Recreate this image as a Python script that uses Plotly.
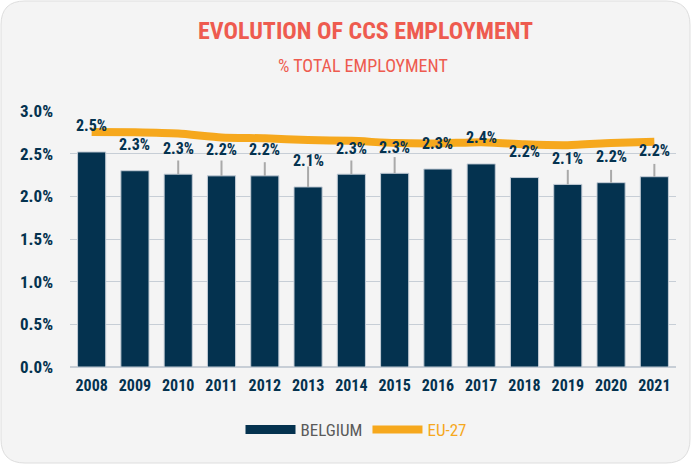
import plotly.graph_objects as go

years = ['2008', '2009', '2010', '2011', '2012', '2013', '2014',
         '2015', '2016', '2017', '2018', '2019', '2020', '2021']
belgium = [2.52, 2.30, 2.26, 2.24, 2.24, 2.11, 2.26,
           2.27, 2.32, 2.38, 2.22, 2.14, 2.16, 2.23]
belgium_upper = [None, None, 2.42, 2.42, 2.40, 2.35, 2.42,
                 2.46, None, None, None, 2.31, 2.31, 2.38]
eu27 = [2.755, 2.75, 2.735, 2.69, 2.68, 2.66, 2.65,
        2.625, 2.62, 2.635, 2.61, 2.60, 2.625, 2.64]
y_ticks = [0, 0.5, 1.0, 1.5, 2.0, 2.5, 3.0]

NAVY = '#04324f'
ORANGE = '#f6a81d'
CORAL = '#ee5b4f'
FONT = 'Roboto Condensed, Open Sans Condensed, Roboto'

W, H = 691, 464
ML, MR, MT, MB = 70, 15, 111, 97
PW, PH = W - ML - MR, H - MT - MB

# error bars only go up
err_plus = [(u - v) / 100 if u is not None else 0 for u, v in zip(belgium_upper, belgium)]

fig = go.Figure()
fig.add_trace(go.Bar(
    x=years, y=[v / 100 for v in belgium], name='BELGIUM',
    marker=dict(color=NAVY, line=dict(color='#c3ccd6', width=1)),
    error_y=dict(type='data', symmetric=False, array=err_plus,
                 arrayminus=[0] * len(years), color='#a9a9a9', thickness=2, width=0),
    showlegend=False,
))
# legend proxy for the bars (wide swatch like the original)
fig.add_trace(go.Scatter(
    x=[years[0]], y=[None], mode='lines', name='BELGIUM',
    line=dict(color=NAVY, width=9),
))
fig.add_trace(go.Scatter(
    x=years, y=[v / 100 for v in eu27], mode='lines',
    name='<span style="color:%s">EU-27</span>' % ORANGE,
    line=dict(color=ORANGE, width=8, shape='spline', smoothing=0.6),
))

# value labels above the bars (x by category index)
for i, v in enumerate(belgium):
    fig.add_annotation(x=i, y=v / 100, text='<b>%.1f%%</b>' % v, showarrow=False,
                       yshift=26, font=dict(family=FONT, size=16, color=NAVY),
                       yanchor='middle')


def px(x, y):
    return (x - ML) / PW, (H - MB - y) / PH


# rounded card behind everything
x0, y0, x1, y1, r = 1, 1, 690, 463, 24
pts = [
    ('M', [(x0 + r, y0)]), ('L', [(x1 - r, y0)]), ('Q', [(x1, y0), (x1, y0 + r)]),
    ('L', [(x1, y1 - r)]), ('Q', [(x1, y1), (x1 - r, y1)]),
    ('L', [(x0 + r, y1)]), ('Q', [(x0, y1), (x0, y1 - r)]),
    ('L', [(x0, y0 + r)]), ('Q', [(x0, y0), (x0 + r, y0)]),
]
path = ''
for cmd, coords in pts:
    path += cmd + ' '.join('%.5f,%.5f' % px(a, b) for a, b in coords) + ' '
path += 'Z'
fig.add_shape(type='path', path=path, xref='paper', yref='paper', layer='below',
              fillcolor='#f4f4f4', line=dict(color='#dedede', width=1))

fig.add_annotation(text='<b>EVOLUTION OF CCS EMPLOYMENT</b>', xref='paper', yref='paper',
                   x=px(365, 0)[0], y=px(0, 31)[1], yanchor='middle', showarrow=False,
                   font=dict(family=FONT, size=24, color=CORAL))
fig.add_annotation(text='% TOTAL EMPLOYMENT', xref='paper', yref='paper',
                   x=px(363, 0)[0], y=px(0, 65)[1], yanchor='middle', showarrow=False,
                   font=dict(family=FONT, size=18, color=CORAL))

fig.update_xaxes(type='category', range=[-0.5, len(years) - 0.5],
                 showgrid=False, showline=False, ticks='', ticklabelstandoff=7,
                 tickfont=dict(family=FONT, size=16, color=NAVY, weight='bold'))
fig.update_yaxes(range=[0, 0.03], tickvals=[t / 100 for t in y_ticks], tickformat='.1%',
                 showgrid=True, gridcolor='#c7ced6', gridwidth=1,
                 zeroline=True, zerolinecolor='#c7ced6', zerolinewidth=1.5,
                 ticks='', ticklabelstandoff=16,
                 tickfont=dict(family=FONT, size=17, color=NAVY, weight='bold'))
fig.update_layout(
    width=W, height=H,
    margin=dict(l=ML, r=MR, t=MT, b=MB),
    paper_bgcolor='white', plot_bgcolor='rgba(0,0,0,0)',
    bargap=0.35,
    font=dict(family=FONT, color='#5a5a5a'),
    legend=dict(orientation='h', x=px(356, 0)[0], xanchor='center',
                y=px(0, 430)[1], yanchor='middle', itemwidth=50,
                font=dict(family=FONT, size=17, color='#5a5a5a'),
                bgcolor='rgba(0,0,0,0)'),
)

# the page has a default 8px body margin; drop it so the figure fills the window
fig.write_html('out.html', config={'displayModeBar': False},
               post_script="document.body.style.margin='0';")
